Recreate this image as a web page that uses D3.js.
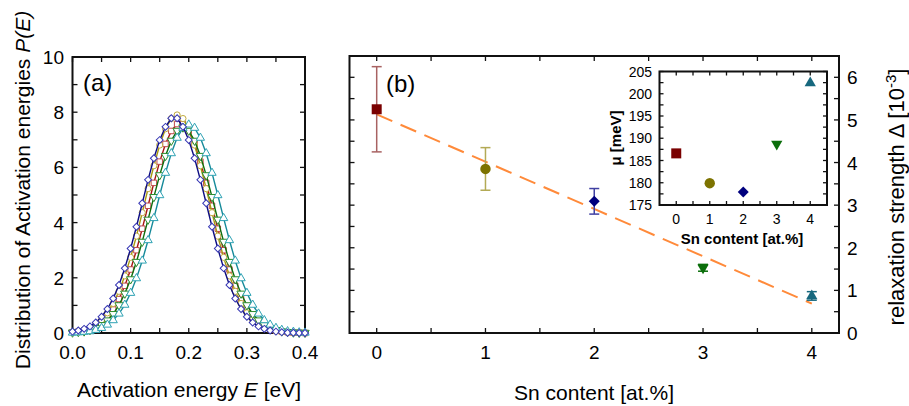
<!DOCTYPE html>
<html>
<head>
<meta charset="utf-8">
<script src="https://cdn.jsdelivr.net/npm/d3@7"></script>
<style>
  body { margin: 0; background: #fff; }
  svg { font-family: "Liberation Sans", Arial, sans-serif; }
</style>
</head>
<body>
<script>
// ---- panel (a): distributions of activation energies ----
const energy = [0.00,0.01,0.02,0.03,0.04,0.05,0.06,0.07,0.08,0.09,0.10,0.11,0.12,0.13,0.14,0.15,0.16,0.17,0.18,0.19,0.20,
                0.21,0.22,0.23,0.24,0.25,0.26,0.27,0.28,0.29,0.30,0.31,0.32,0.33,0.34,0.35,0.36,0.37,0.38,0.39,0.40];
const pRed   = [0.03,0.05,0.08,0.14,0.24,0.37,0.57,0.85,1.23,1.71,2.30,3.00,3.78,4.61,5.44,6.21,6.85,7.32,7.57,7.57,7.32,
                6.85,6.21,5.44,4.61,3.78,3.00,2.30,1.71,1.23,0.85,0.57,0.37,0.24,0.14,0.08,0.05,0.03,0.01,0.01,0.00];
const pOlive = [0.04,0.07,0.12,0.19,0.31,0.48,0.73,1.07,1.51,2.07,2.74,3.51,4.36,5.23,6.06,6.81,7.40,7.77,7.90,7.77,7.40,
                6.81,6.06,5.23,4.36,3.51,2.74,2.07,1.51,1.07,0.73,0.48,0.31,0.19,0.12,0.07,0.04,0.02,0.01,0.01,0.00];
const pNavy  = [0.05,0.09,0.15,0.24,0.38,0.59,0.87,1.25,1.74,2.35,3.06,3.85,4.70,5.55,6.33,6.99,7.47,7.78,7.78,7.47,6.99,
                6.33,5.55,4.70,3.85,3.06,2.35,1.74,1.25,0.87,0.59,0.38,0.24,0.15,0.09,0.05,0.03,0.01,0.01,0.00,0.00];
const pGreen = [0.02,0.04,0.06,0.11,0.18,0.29,0.46,0.69,1.01,1.43,1.95,2.58,3.31,4.11,4.93,5.72,6.42,6.97,7.33,7.45,7.33,
                6.97,6.42,5.72,4.93,4.11,3.31,2.58,1.95,1.43,1.01,0.69,0.46,0.29,0.18,0.11,0.06,0.04,0.02,0.01,0.01];
const pTeal  = [0.01,0.02,0.04,0.06,0.11,0.18,0.30,0.46,0.70,1.02,1.45,1.98,2.62,3.36,4.16,4.99,5.80,6.51,7.07,7.43,7.55,
                7.43,7.07,6.51,5.80,4.99,4.16,3.36,2.62,1.98,1.45,1.02,0.70,0.46,0.30,0.18,0.11,0.06,0.04,0.02,0.01];
const xTicksA = [0, 0.1, 0.2, 0.3, 0.4];
const yTicksA = [0, 2, 4, 6, 8, 10];

// ---- panel (b): relaxation strength and inset mu ----
const snContent = [0, 1, 2, 3, 4];
const delta     = [5.25, 3.85, 3.09, 1.53, 0.87];
const deltaErr  = [1.00, 0.50, 0.30, 0.08, 0.10];
const mu        = [186.6, 179.9, 177.9, 188.7, 202.4];
const fitX      = [0, 4];
const fitY      = [5.13, 0.69];
const yTicksB   = [0, 1, 2, 3, 4, 5, 6];
const muTicks   = [175, 180, 185, 190, 195, 200, 205];

const width = 909, height = 406;
const svg = d3.select("body").append("svg")
  .attr("width", width).attr("height", height);

// symbols: sample index -> shape
const shapes = [
  {sym: d3.symbolSquare, rot: 0},
  {sym: d3.symbolCircle, rot: 0},
  {sym: d3.symbolSquare, rot: 45},
  {sym: d3.symbolTriangle, rot: 180},
  {sym: d3.symbolTriangle, rot: 0}
];
const markColor = ["#7a0000", "#7d7300", "#00007e", "#0b6e0b", "#17687e"];
const errColor  = ["#a86262", "#b3aa55", "#4040a2", "#0b6e0b", "#17687e"];
const markSize  = [100, 85, 60, 55, 55];

// inward ticks on all four sides
function frame(g, x, y, xt, yt, len) {
  const [x0, x1] = x.range(), [y0, y1] = y.range();
  g.append("rect").attr("x", x0).attr("y", y1).attr("width", x1 - x0).attr("height", y0 - y1)
    .attr("fill", "none").attr("stroke", "#111").attr("stroke-width", 2);
  xt.forEach(t => {
    g.append("line").attr("x1", x(t)).attr("x2", x(t)).attr("y1", y0).attr("y2", y0 - len).attr("stroke", "#111").attr("stroke-width", 1.3);
    g.append("line").attr("x1", x(t)).attr("x2", x(t)).attr("y1", y1).attr("y2", y1 + len).attr("stroke", "#111").attr("stroke-width", 1.3);
  });
  yt.forEach(t => {
    g.append("line").attr("y1", y(t)).attr("y2", y(t)).attr("x1", x0).attr("x2", x0 + len).attr("stroke", "#111").attr("stroke-width", 1.3);
    g.append("line").attr("y1", y(t)).attr("y2", y(t)).attr("x1", x1).attr("x2", x1 - len).attr("stroke", "#111").attr("stroke-width", 1.3);
  });
}

// ================= panel (a) =================
let xA = d3.scaleLinear().domain([0, 0.4]).range([72.5, 305]);
let yA = d3.scaleLinear().domain([0, 10]).range([333, 57]);

let gA = svg.append("g");
frame(gA, xA, yA, d3.range(0, 0.401, 0.05), d3.range(0, 10.01, 1), 5);

gA.selectAll(".xta").data(xTicksA).enter().append("text")
  .attr("x", d => xA(d)).attr("y", 359).attr("text-anchor", "middle")
  .attr("font-size", 19).text(d => d3.format(".1f")(d));
gA.selectAll(".yta").data(yTicksA).enter().append("text")
  .attr("x", 64).attr("y", d => yA(d) + 7).attr("text-anchor", "end")
  .attr("font-size", 19).text(d => d);

let seriesA = [
  {vals: pRed,   line: "#a81414", mark: "#c04848", s: 0},
  {vals: pOlive, line: "#a89a10", mark: "#c0aa40", s: 1},
  {vals: pGreen, line: "#0e6e0e", mark: "#2c8c2c", s: 3},
  {vals: pTeal,  line: "#168a9a", mark: "#2ea2b4", s: 4},
  {vals: pNavy,  line: "#0c0c82", mark: "#3636b4", s: 2}
];
let lineA = d3.line().x((d, i) => xA(energy[i])).y(d => yA(d));
seriesA.forEach(sr => {
  gA.append("path").attr("d", lineA(sr.vals)).attr("fill", "none")
    .attr("stroke", sr.line).attr("stroke-width", 1.4);
  let sh = shapes[sr.s];
  gA.selectAll(null).data(sr.vals).enter().append("path")
    .attr("d", d3.symbol().type(sh.sym).size(sr.s === 2 ? 24 : 30))
    .attr("transform", (d, i) => `translate(${xA(energy[i])},${yA(d)}) rotate(${sh.rot})`)
    .attr("fill", "#fff").attr("stroke", sr.mark).attr("stroke-width", 1);
});

gA.append("text").attr("x", 83).attr("y", 91).attr("font-size", 24).text("(a)");

gA.append("text").attr("x", 189).attr("y", 397).attr("text-anchor", "middle").attr("font-size", 21)
  .html('Activation energy <tspan font-style="italic">E</tspan> [eV]');
gA.append("text").attr("transform", "translate(30,190) rotate(-90)").attr("text-anchor", "middle").attr("font-size", 21)
  .html('Distribution of Activation energies <tspan font-style="italic">P(E)</tspan>');

// ================= panel (b) =================
let xB = d3.scaleLinear().domain([-0.25, 4.25]).range([349.5, 839]);
let yB = d3.scaleLinear().domain([0, 6.5]).range([333, 56]);

let gB = svg.append("g");
frame(gB, xB, yB, d3.range(0, 4.01, 0.5), d3.range(0, 6.51, 0.5), 5);

gB.selectAll(".xtb").data(snContent).enter().append("text")
  .attr("x", d => xB(d)).attr("y", 359).attr("text-anchor", "middle")
  .attr("font-size", 19).text(d => d);
gB.selectAll(".ytb").data(yTicksB).enter().append("text")
  .attr("x", 847).attr("y", d => yB(d) + 7)
  .attr("font-size", 19).text(d => d);

// fitted trend
gB.append("line")
  .attr("x1", xB(fitX[0])).attr("y1", yB(fitY[0])).attr("x2", xB(fitX[1])).attr("y2", yB(fitY[1]))
  .attr("stroke", "#ff8a3a").attr("stroke-width", 2).attr("stroke-dasharray", "17,9");

// error bars
snContent.forEach((s, i) => {
  let c = errColor[i], x = xB(s), ylo = yB(delta[i] - deltaErr[i]), yhi = yB(delta[i] + deltaErr[i]);
  gB.append("line").attr("x1", x).attr("x2", x).attr("y1", ylo).attr("y2", yhi).attr("stroke", c).attr("stroke-width", 1.5);
  [ylo, yhi].forEach(yy => gB.append("line").attr("x1", x - 5).attr("x2", x + 5).attr("y1", yy).attr("y2", yy)
    .attr("stroke", c).attr("stroke-width", 1.5));
});
gB.selectAll(".pt").data(snContent).enter().append("path")
  .attr("d", (d, i) => d3.symbol().type(shapes[i].sym).size(markSize[i])())
  .attr("transform", (d, i) => `translate(${xB(d)},${yB(delta[i])}) rotate(${shapes[i].rot})`)
  .attr("fill", (d, i) => markColor[i]);

gB.append("text").attr("x", 386).attr("y", 92).attr("font-size", 24).text("(b)");
gB.append("text").attr("x", 594).attr("y", 400).attr("text-anchor", "middle").attr("font-size", 21)
  .text("Sn content [at.%]");
gB.append("text").attr("transform", "translate(904,197) rotate(-90)").attr("text-anchor", "middle").attr("font-size", 22)
  .html('relaxation strength Δ [10<tspan dy="-8" font-size="15">-3</tspan><tspan dy="8">]</tspan>');

// ---- inset ----
let xI = d3.scaleLinear().domain([-0.5, 4.5]).range([659.5, 827]);
let yI = d3.scaleLinear().domain([175, 205]).range([205, 71.5]);
let gI = svg.append("g");
gI.append("rect").attr("x", 659.5).attr("y", 71.5).attr("width", 827 - 659.5).attr("height", 205 - 71.5).attr("fill", "#fff");
frame(gI, xI, yI, d3.range(0, 4.01, 0.5), d3.range(175, 205.01, 2.5), 4);

gI.selectAll(".xti").data(snContent).enter().append("text")
  .attr("x", d => xI(d)).attr("y", 224).attr("text-anchor", "middle")
  .attr("font-size", 14).text(d => d);
gI.selectAll(".yti").data(muTicks).enter().append("text")
  .attr("x", 652).attr("y", d => yI(d) + 5).attr("text-anchor", "end")
  .attr("font-size", 14).text(d => d);
gI.selectAll(".ipt").data(snContent).enter().append("path")
  .attr("d", (d, i) => d3.symbol().type(shapes[i].sym).size(markSize[i])())
  .attr("transform", (d, i) => `translate(${xI(d)},${yI(mu[i])}) rotate(${shapes[i].rot})`)
  .attr("fill", (d, i) => markColor[i]);
gI.append("text").attr("x", 742).attr("y", 244).attr("text-anchor", "middle")
  .attr("font-size", 15).attr("font-weight", "bold").text("Sn content [at.%]");
gI.append("text").attr("transform", "translate(621,138) rotate(-90)").attr("text-anchor", "middle")
  .attr("font-size", 15).attr("font-weight", "bold").text("μ [meV]");
</script>
</body>
</html>
